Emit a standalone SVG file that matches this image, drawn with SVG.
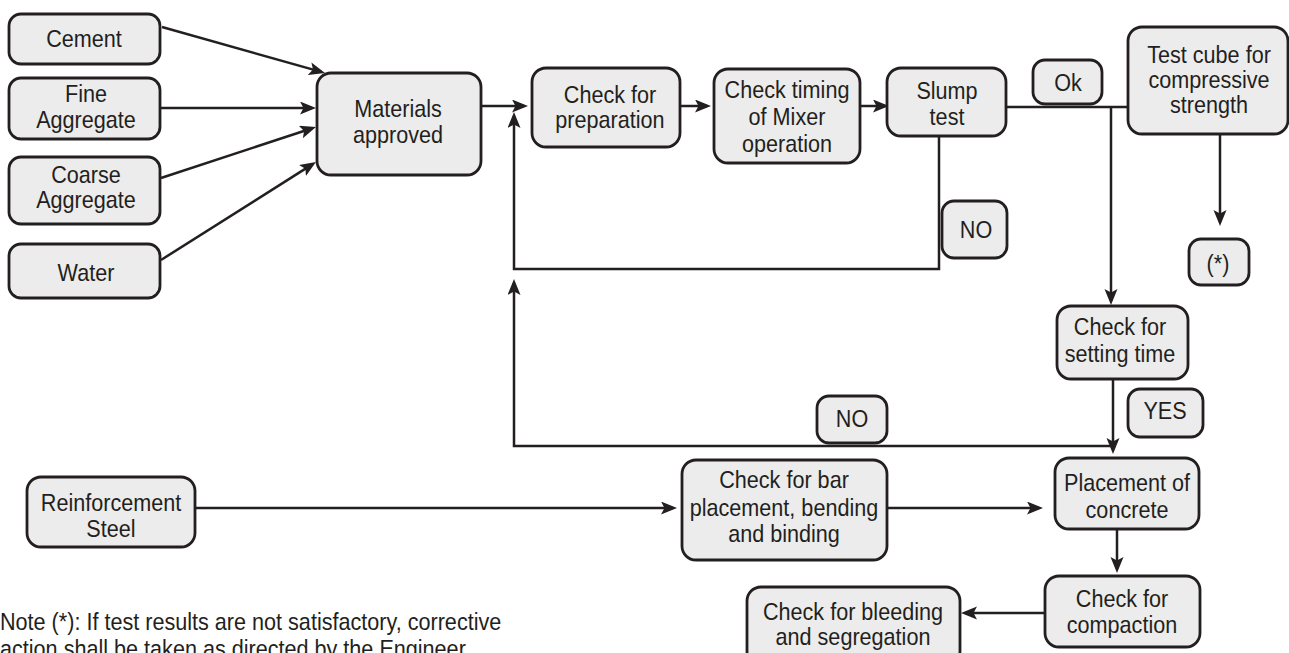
<svg xmlns="http://www.w3.org/2000/svg" width="1289" height="653" viewBox="0 0 1289 653">
<defs>
<marker id="ah" markerUnits="userSpaceOnUse" markerWidth="17" markerHeight="14" refX="12" refY="6.5" orient="auto"><path d="M0,0 L16,6.5 L0,13 L3.5,6.5 Z" fill="#231f20"/></marker>
</defs>
<style>
.box{fill:#ececec;stroke:#231f20;stroke-width:2.8}
.t{font-family:"Liberation Sans",Arial,sans-serif;font-size:24px;fill:#231f20;text-anchor:middle;transform-box:fill-box;transform-origin:center;transform:scaleX(0.9)}
.n{font-family:"Liberation Sans",Arial,sans-serif;font-size:24px;fill:#231f20;transform-box:fill-box;transform-origin:0 50%;transform:scaleX(0.9)}
.c{fill:none;stroke:#231f20;stroke-width:2.5}
.a{marker-end:url(#ah)}
</style>
<rect width="1289" height="653" fill="#ffffff"/>
<g id="connectors">
<path class="c a" d="M162,27 L321.2,71.9"/>
<path class="c a" d="M160,108 L312,108"/>
<path class="c a" d="M161,178 L312.2,128.25"/>
<path class="c a" d="M161,260 L312.6,164.1"/>
<path class="c a" d="M481,106 L524,106"/>
<path class="c a" d="M680,106 L707,106"/>
<path class="c a" d="M860,106 L885,106"/>
<path class="c" d="M1006,107 L1128,107"/>
<path class="c a" d="M1111,107 L1111,301"/>
<path class="c a" d="M1220,134 L1220,222"/>
<path class="c a" d="M939,136 L939,269 L514,269 L514,116"/>
<path class="c a" d="M1113,379 L1113,450"/>
<path class="c a" d="M1113,446 L514,446 L514,283"/>
<path class="c a" d="M195,508 L673,508"/>
<path class="c a" d="M887,508 L1039,508"/>
<path class="c a" d="M1117,529 L1117,569"/>
<path class="c a" d="M1045,613 L965,613"/>
</g>
<g id="cement"><rect class="box" x="9" y="14" width="151" height="50" rx="12"/><text class="t" x="84" y="47">Cement</text></g>
<g id="fine-aggregate"><rect class="box" x="9" y="78" width="151" height="61" rx="12"/><text class="t" x="86" y="102">Fine</text><text class="t" x="86" y="128">Aggregate</text></g>
<g id="coarse-aggregate"><rect class="box" x="9" y="157" width="151" height="67" rx="12"/><text class="t" x="86" y="183">Coarse</text><text class="t" x="86" y="208">Aggregate</text></g>
<g id="water"><rect class="box" x="9" y="244" width="151" height="54" rx="12"/><text class="t" x="86" y="281">Water</text></g>
<g id="materials-approved"><rect class="box" x="317" y="73" width="164" height="102" rx="14"/><text class="t" x="398" y="117">Materials</text><text class="t" x="398" y="143">approved</text></g>
<g id="check-preparation"><rect class="box" x="532" y="68" width="148" height="79" rx="14"/><text class="t" x="610" y="103">Check for</text><text class="t" x="610" y="128">preparation</text></g>
<g id="check-mixer"><rect class="box" x="714" y="69" width="146" height="94" rx="14"/><text class="t" x="787" y="98">Check timing</text><text class="t" x="787" y="125">of Mixer</text><text class="t" x="787" y="152">operation</text></g>
<g id="slump-test"><rect class="box" x="887" y="68" width="119" height="68" rx="14"/><text class="t" x="947" y="99">Slump</text><text class="t" x="947" y="125">test</text></g>
<g id="ok"><rect class="box" x="1033" y="60" width="69" height="44" rx="12"/><text class="t" x="1068" y="91">Ok</text></g>
<g id="test-cube"><rect class="box" x="1128" y="27" width="160" height="107" rx="14"/><text class="t" x="1209" y="63">Test cube for</text><text class="t" x="1209" y="88">compressive</text><text class="t" x="1209" y="113">strength</text></g>
<g id="star"><rect class="box" x="1189" y="239" width="60" height="46" rx="12"/><text class="t" x="1218" y="272">(*)</text></g>
<g id="no-slump"><rect class="box" x="942" y="201" width="65" height="57" rx="12"/><text class="t" x="976" y="238">NO</text></g>
<g id="setting-time"><rect class="box" x="1057" y="306" width="131" height="73" rx="14"/><text class="t" x="1120" y="335">Check for</text><text class="t" x="1120" y="362">setting time</text></g>
<g id="yes"><rect class="box" x="1128" y="389" width="75" height="48" rx="12"/><text class="t" x="1165" y="419">YES</text></g>
<g id="no-setting"><rect class="box" x="817" y="396" width="70" height="47" rx="12"/><text class="t" x="852" y="427">NO</text></g>
<g id="bar-placement"><rect class="box" x="682" y="460" width="205" height="100" rx="14"/><text class="t" x="784" y="488">Check for bar</text><text class="t" x="784" y="516">placement, bending</text><text class="t" x="784" y="542">and binding</text></g>
<g id="placement-concrete"><rect class="box" x="1055" y="458" width="144" height="71" rx="14"/><text class="t" x="1127" y="491">Placement of</text><text class="t" x="1127" y="518">concrete</text></g>
<g id="compaction"><rect class="box" x="1045" y="576" width="155" height="71" rx="14"/><text class="t" x="1122" y="607">Check for</text><text class="t" x="1122" y="633">compaction</text></g>
<g id="bleeding"><rect class="box" x="747" y="587" width="213" height="78" rx="14"/><text class="t" x="853" y="620">Check for bleeding</text><text class="t" x="853" y="645">and segregation</text></g>
<g id="reinforcement"><rect class="box" x="27" y="477" width="168" height="70" rx="14"/><text class="t" x="111" y="511">Reinforcement</text><text class="t" x="111" y="537">Steel</text></g>
<g id="note"><text class="n" x="0" y="630">Note (*): If test results are not satisfactory, corrective</text><text class="n" x="0" y="657">action shall be taken as directed by the Engineer.</text></g>
</svg>
